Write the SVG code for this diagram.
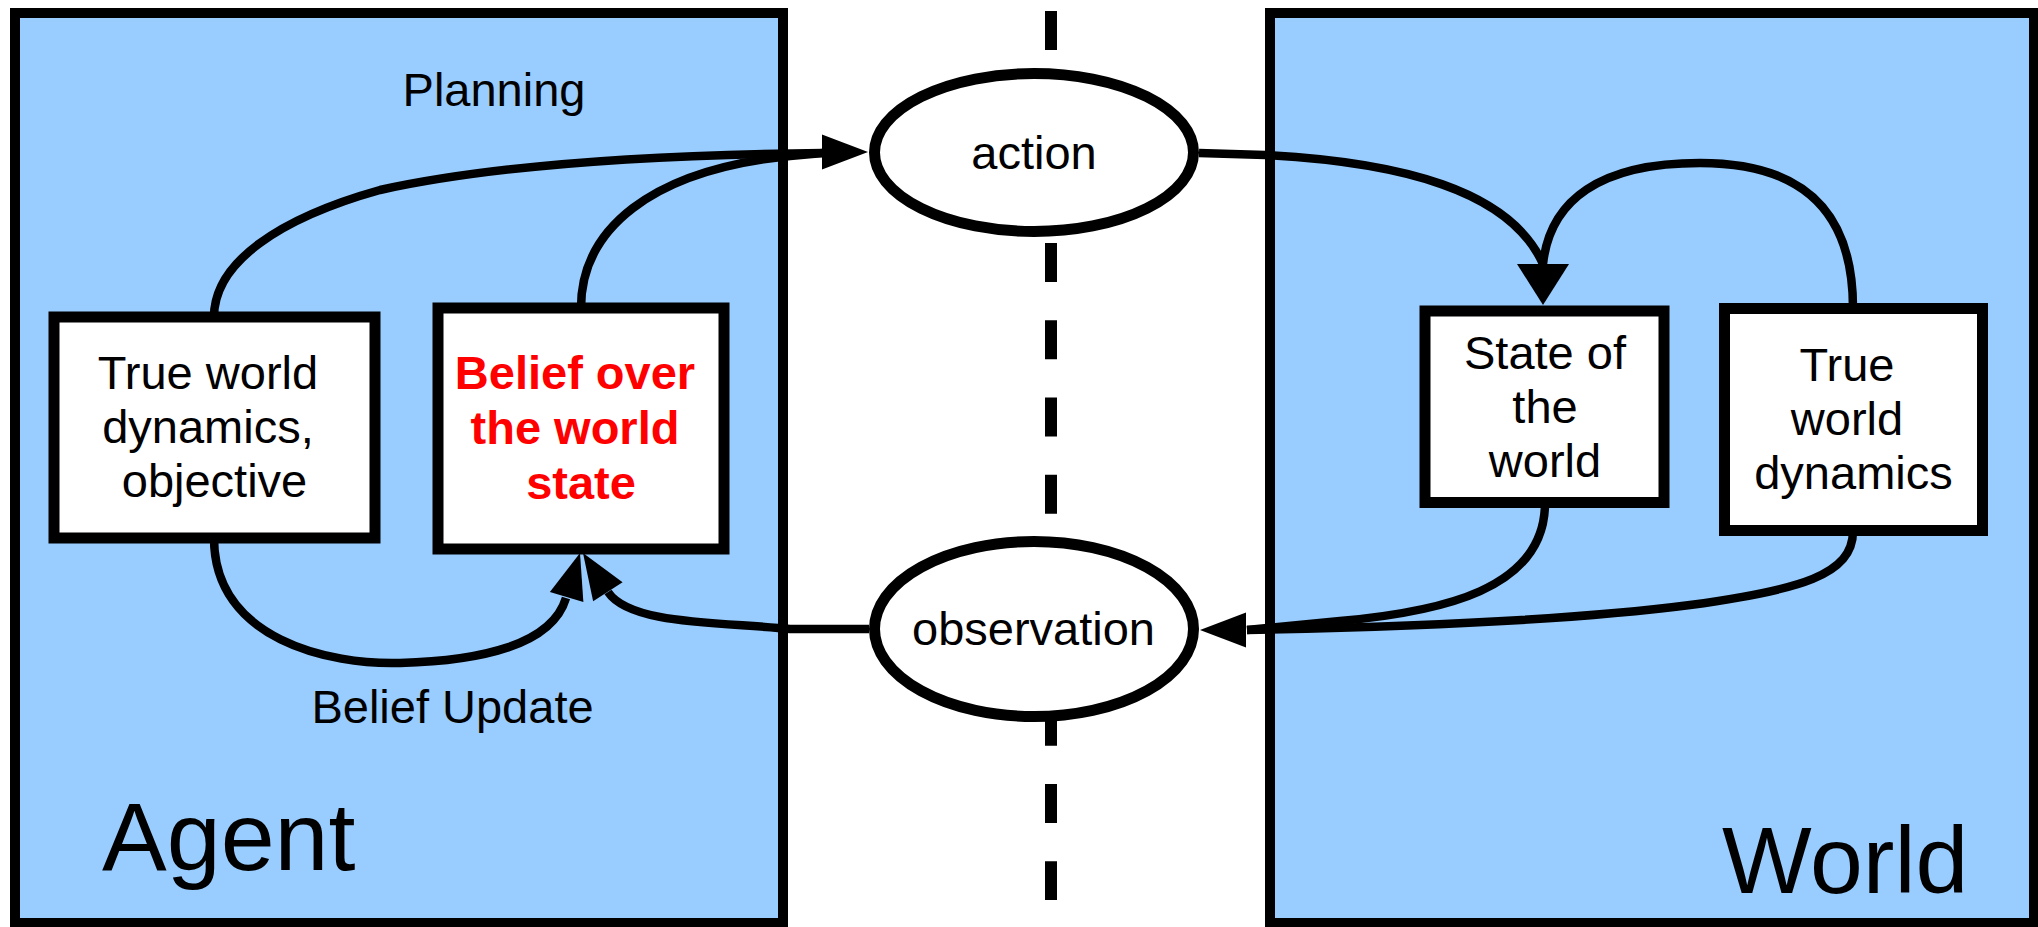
<svg xmlns="http://www.w3.org/2000/svg" xmlns:xlink="http://www.w3.org/1999/xlink" width="2038" height="927" viewBox="0 0 2038 927">
  <style>
    .container { fill: #99ccff; stroke: #000; stroke-width: 10; }
    .box { fill: #fff; stroke: #000; stroke-width: 11; }
    .oval { fill: #fff; stroke: #000; stroke-width: 11; }
    .edge { fill: none; stroke: #000; stroke-width: 8.5; }
    .divider { stroke: #000; stroke-width: 12; stroke-dasharray: 39 38.3; }
    text { font-family: "Liberation Sans", Arial, Helvetica, sans-serif; fill: #000; }
    .label { font-size: 47px; text-anchor: middle; }
    .belief { font-size: 47px; font-weight: bold; fill: #ff0000; text-anchor: middle; }
    .title { font-size: 97px; }
  </style>
  <defs>
    <!-- arrowhead with its tip at the origin, pointing along +x -->
    <path id="head" d="M0,0 L-46,-17.5 L-46,17.5 Z" fill="#000"/>
  </defs>

  <!-- containers -->
  <g id="agent">
    <rect class="container" x="15" y="13" width="768" height="910"/>
    <text class="title" x="102" y="870">Agent</text>
  </g>
  <g id="world">
    <rect class="container" x="1270" y="13" width="764" height="910"/>
    <text class="title" x="1722" y="893" style="font-size:95px">World</text>
  </g>

  <!-- boundary between agent and world -->
  <line class="divider" x1="1051" y1="11" x2="1051" y2="900"/>

  <!-- nodes -->
  <g id="true-world-objective">
    <rect class="box" x="54" y="317" width="321" height="221"/>
    <text class="label" x="208" y="389">True world</text>
    <text class="label" x="208" y="443">dynamics,</text>
    <text class="label" x="214.5" y="497">objective</text>
  </g>
  <g id="belief">
    <rect class="box" x="438" y="308" width="286" height="241"/>
    <text class="belief" x="575" y="389">Belief over</text>
    <text class="belief" x="575" y="444">the world</text>
    <text class="belief" x="581" y="499">state</text>
  </g>
  <g id="action">
    <ellipse class="oval" cx="1034" cy="152.5" rx="159.5" ry="79"/>
    <text class="label" x="1034" y="169">action</text>
  </g>
  <g id="observation">
    <ellipse class="oval" cx="1034" cy="629" rx="159.5" ry="87.5"/>
    <text class="label" x="1033.5" y="645">observation</text>
  </g>
  <g id="state-of-world">
    <rect class="box" x="1425" y="311" width="239" height="191.5"/>
    <text class="label" x="1545" y="369">State of</text>
    <text class="label" x="1545" y="423">the</text>
    <text class="label" x="1545" y="477">world</text>
  </g>
  <g id="true-world-dynamics">
    <rect class="box" x="1724.5" y="308.5" width="258" height="222"/>
    <text class="label" x="1847" y="381">True</text>
    <text class="label" x="1847" y="435">world</text>
    <text class="label" x="1853.5" y="489">dynamics</text>
  </g>

  <!-- connectors -->
  <g id="connectors">
    <!-- planning: model and belief feed the action -->
    <path class="edge" d="M214,317 C214,262 280,218 380,190 C480,168 620,155 823,153"/>
    <path class="edge" d="M581,308 C581,230 650,170 790,156 L823,153"/>
    <use xlink:href="#head" transform="translate(868,152)"/>

    <!-- action changes the state of the world -->
    <path class="edge" d="M1199,153 L1265,155 C1400,162 1510,190 1543,264"/>
    <path class="edge" d="M1853,308 C1853,200 1790,163 1700,163 C1600,163 1550,200 1543,264"/>
    <path d="M1543,305 L1517,264 L1569,264 Z" fill="#000"/>

    <!-- world produces the observation -->
    <path class="edge" d="M1545,503 C1545,590 1440,612 1340,621 L1247,630"/>
    <path class="edge" d="M1853,531 C1853,575 1800,590 1690,605 C1590,618 1450,626 1247,630"/>
    <use xlink:href="#head" transform="translate(1200,630) rotate(180)"/>

    <!-- belief update -->
    <path class="edge" d="M869,629 L790,629 C720,622 630,625 608,592"/>
    <use xlink:href="#head" transform="translate(583,553) rotate(-122.7)"/>
    <path class="edge" d="M214,538 C214,640 330,665 400,663 C480,661 552,645 566,598"/>
    <use xlink:href="#head" transform="translate(580,553) rotate(-73.1)"/>
  </g>

  <!-- edge labels -->
  <text class="label" x="494" y="106">Planning</text>
  <text class="label" x="452.5" y="723">Belief Update</text>
</svg>
